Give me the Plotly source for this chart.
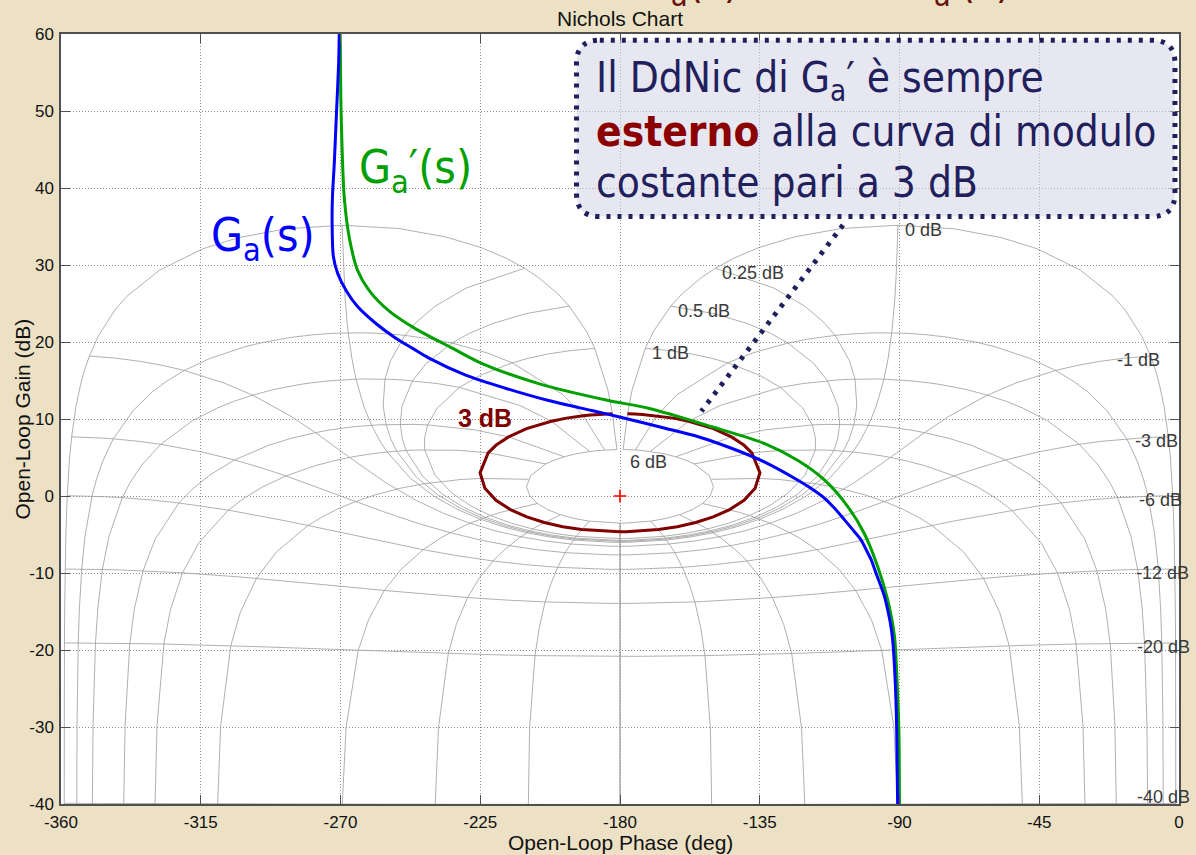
import numpy as np
import plotly.graph_objects as go

# ---------------------------------------------------------------
# Open-loop responses: phase (deg) and gain (dB)
# ---------------------------------------------------------------
ga_phase = [-270.4, -270.6, -271.3, -272.0, -272.6, -272.7, -272.3, -270.9, -268.2,
            -264.5, -258.6, -252.2, -246.9, -241.5, -229.7, -216.9, -203.0, -189.1,
            -180.5, -165.5, -154.8, -144.1, -133.4, -122.7, -118.4, -114.1, -110.9,
            -107.7, -105.0, -102.4, -100.7, -99.1, -97.5, -95.9, -94.8, -93.8, -92.9,
            -92.2, -91.4, -90.9, -90.6]
ga_gain = [60.0, 56.2, 49.7, 43.2, 38.8, 35.4, 31.1, 28.9, 26.7,
           24.6, 22.4, 20.5, 19.2, 17.9, 15.7, 14.0, 12.4, 11.1,
           10.3, 8.8, 7.7, 6.2, 4.4, 2.05, 0.97, -0.3, -1.6,
           -3.1, -4.4, -5.7, -7.0, -8.3, -10.1, -11.8, -13.1, -14.8, -16.6,
           -18.7, -23.9, -30.4, -40.2]

gap_phase = [-270.1, -269.9, -269.5, -268.8, -267.2, -264.5, -260.8, -254.3, -245.8,
             -234.0, -224.4, -206.2, -183.7, -170.8, -150.5, -133.4, -122.7, -114.1,
             -106.6, -101.3, -97.0, -93.8, -91.6, -90.8, -90.2, -90.0]
gap_gain = [60.0, 51.8, 45.3, 38.8, 33.6, 29.3, 26.7, 24.0, 21.7,
            19.2, 17.2, 14.6, 12.4, 11.4, 9.0, 6.8, 4.6, 2.05,
            -1.4, -4.9, -9.2, -13.5, -18.3, -23.9, -30.4, -40.2]

# ---------------------------------------------------------------
# Nichols grid: closed-loop magnitude / phase levels
# ---------------------------------------------------------------
iso_gain_db = [6, 3, 1, 0.5, 0.25, 0, -1, -3, -6, -12, -20, -40]
iso_phase_deg = [1, 5, 10, 20, 30, 50, 90, 120, 150, 180]
contour_phase_pts = [1, 2, 3, 4, 5, 7.5, 10, 15, 20, 25, 30, 45, 60, 75, 90,
                     105, 120, 135, 150, 175, 180]
contour_gain_pts = [6, 3, 2, 1, .75, .5, .4, .3, .25, .2, .15, .1, .05, 0, -.05,
                    -.1, -.15, -.25, -.4, -.5, -.75, -1, -1.25, -1.5, -2, -3, -4,
                    -5, -6, -9, -12, -16, -20, -30, -40, -50]
highlight_db = 3

phase_ticks = [-360, -315, -270, -225, -180, -135, -90, -45, 0]
gain_ticks = [-40, -30, -20, -10, 0, 10, 20, 30, 40, 50, 60]

GRID_GRAY = "#9c9c9c"
TXT = "Liberation Sans, Arial, sans-serif"
SLIDE = "DejaVu Sans Condensed, Liberation Sans, Arial, sans-serif"
NAVY = "#1f205c"
MAROON = "#8b0000"


def open_loop(mag_db, cl_phase_deg):
    """Map closed-loop T = |T|e^{j phi} to open-loop G = T/(1-T) in Nichols coords."""
    mag_db = np.asarray(mag_db, dtype=float)
    cl_phase_deg = np.asarray(cl_phase_deg, dtype=float)
    z = 10 ** (mag_db / 20) * np.exp(1j * np.deg2rad(cl_phase_deg))
    h = z / (1 - z)
    gain = 20 * np.log10(np.abs(h))
    phase = cl_phase_deg - np.rad2deg(np.angle(1 - z)) - 360
    return phase, gain


theta_full = np.array(contour_phase_pts[:] + [360 - p for p in contour_phase_pts[-2::-1]])

grid_x, grid_y = [], []
# constant closed-loop magnitude curves
for m in iso_gain_db:
    ph, gn = open_loop(np.full(theta_full.shape, m), theta_full)
    grid_x += list(ph) + [None]
    grid_y += list(gn) + [None]
# constant closed-loop phase curves (and their mirror images)
for p in iso_phase_deg:
    ph, gn = open_loop(contour_gain_pts, np.full(len(contour_gain_pts), p))
    grid_x += list(ph) + [None] + list(-360 - ph) + [None]
    grid_y += list(gn) + [None] + list(gn) + [None]

fig = go.Figure()

fig.add_trace(go.Scatter(x=grid_x, y=grid_y, mode="lines",
                         line=dict(color=GRID_GRAY, width=0.8),
                         hoverinfo="skip", showlegend=False))

hl_ph, hl_gn = open_loop(np.full(theta_full.shape, highlight_db), theta_full)
fig.add_trace(go.Scatter(x=hl_ph, y=hl_gn, mode="lines",
                         line=dict(color="#800000", width=3),
                         showlegend=False))

fig.add_trace(go.Scatter(x=gap_phase, y=gap_gain, mode="lines",
                         line=dict(color="#00a000", width=3, shape="spline", smoothing=0.8),
                         name="Ga'(s)", showlegend=False))
fig.add_trace(go.Scatter(x=ga_phase, y=ga_gain, mode="lines",
                         line=dict(color="#0000ff", width=3, shape="spline", smoothing=0.8),
                         name="Ga(s)", showlegend=False))

fig.add_trace(go.Scatter(x=[-180], y=[0], mode="markers",
                         marker=dict(symbol="cross-thin", size=9,
                                     line=dict(color="#ff0000", width=1.6)),
                         showlegend=False))

# closed-loop magnitude labels at the end of each contour
annotations = []
end_theta = 360 - contour_phase_pts[0]
for m in iso_gain_db:
    if m == highlight_db:
        continue
    ph, gn = open_loop([m], [end_theta])
    label = f"{m:g} dB"
    if m >= 0:
        annotations.append(dict(x=float(ph[0]), y=float(gn[0]), text=label,
                                xanchor="left", yanchor="middle",
                                xshift=5, yshift=-12 if m == 6 else -4.5,
                                showarrow=False,
                                font=dict(family=TXT, size=18, color="#3a3a3a")))
    else:
        annotations.append(dict(x=float(ph[0]), y=float(gn[0]), text=label,
                                xanchor="center", yanchor="middle",
                                xshift=-12, yshift=6 if m == -40 else -4, showarrow=False,
                                font=dict(family=TXT, size=18, color="#3a3a3a")))

# titles
annotations += [
    dict(xref="paper", yref="paper", x=0.5, y=1.0, yshift=2, text="Nichols Chart",
         xanchor="center", yanchor="bottom", showarrow=False,
         font=dict(family=TXT, size=21, color="#111111")),
    dict(xref="paper", yref="paper", x=0.5, y=0, yshift=-38, text="Open-Loop Phase (deg)",
         xanchor="center", yanchor="middle", showarrow=False,
         font=dict(family=TXT, size=21, color="#111111")),
    dict(xref="paper", yref="paper", x=0, xshift=-26, y=0.5, text="Open-Loop Gain (dB)",
         textangle=-90, xanchor="right", yanchor="middle", showarrow=False,
         font=dict(family=TXT, size=21, color="#111111")),
]

# slide heading, mostly outside the page
annotations += [
    dict(xref="paper", yref="paper", x=0.5165, y=1.025, text="G<sub>a</sub>(s)",
         xanchor="left", yanchor="bottom", showarrow=False,
         font=dict(family=SLIDE, size=44, color="#6a1010")),
    dict(xref="paper", yref="paper", x=0.751, y=1.025, text="G<sub>a</sub>′(s)",
         xanchor="left", yanchor="bottom", showarrow=False,
         font=dict(family=SLIDE, size=44, color="#6a1010")),
]

# curve labels
annotations += [
    dict(x=-277.5, y=33.5, text="G<sub>a</sub>(s)", xanchor="right", yanchor="middle",
         showarrow=False, font=dict(family=SLIDE, size=46, color="#0000ff")),
    dict(x=-264.6, y=42.3, text="G<sub>a</sub>′(s)", xanchor="left", yanchor="middle",
         showarrow=False, font=dict(family=SLIDE, size=46, color="#00a000")),
    dict(x=-223.5, y=10.1, text="<b>3 dB</b>", xanchor="center", yanchor="middle",
         showarrow=False, font=dict(family=TXT, size=25, color="#800000")),
]

# call-out text
box_lines = [
    "Il DdNic di G<sub>a</sub>′ è sempre",
    f"<span style='color:{MAROON}'><b>esterno</b></span> alla curva di modulo",
    "costante pari a 3 dB",
]
box_line_y = [54.0, 47.4, 40.7]
for txt, yy in zip(box_lines, box_line_y):
    annotations.append(dict(x=-188.5, y=yy, text=txt, xanchor="left", yanchor="middle",
                            align="left", showarrow=False,
                            font=dict(family=SLIDE, size=42, color=NAVY)))

# rounded call-out box
x0, x1, y0, y1 = -194.0, -1.3, 36.3, 59.2
rx, ry = 7.5, 3.0
box_path = (f"M {x0+rx},{y1} L {x1-rx},{y1} Q {x1},{y1} {x1},{y1-ry} "
            f"L {x1},{y0+ry} Q {x1},{y0} {x1-rx},{y0} L {x0+rx},{y0} "
            f"Q {x0},{y0} {x0},{y0+ry} L {x0},{y1-ry} Q {x0},{y1} {x0+rx},{y1} Z")
shapes = [
    dict(type="path", xref="x", yref="y", path=box_path,
         fillcolor="rgba(212,212,232,0.55)",
         line=dict(color=NAVY, width=5, dash="4px,7px"), layer="above"),
    dict(type="line", xref="x", yref="y", x0=-108.2, y0=35.2, x1=-153.8, y1=11.0,
         line=dict(color=NAVY, width=5, dash="4px,7px"), layer="above"),
]

axis_common = dict(
    showline=True, linecolor="#505050", linewidth=1.5, mirror="ticks",
    ticks="inside", ticklen=9, tickcolor="#505050", tickwidth=1,
    showgrid=True, gridcolor="#8a8a8a", griddash="1px,2px", gridwidth=1,
    zeroline=False, tickfont=dict(family=TXT, size=17, color="#111111"),
)

fig.update_layout(
    width=1196, height=855,
    margin=dict(l=61, r=14, t=34, b=51),
    paper_bgcolor="#ece1c5", plot_bgcolor="#ffffff",
    xaxis=dict(range=[-360, 0], tickvals=phase_ticks,
               ticktext=[str(v) for v in phase_ticks], ticklabelstandoff=2, **axis_common),
    yaxis=dict(range=[-40, 60], tickvals=gain_ticks,
               ticktext=[str(v) for v in gain_ticks], ticklabelstandoff=2, **axis_common),
    annotations=annotations, shapes=shapes, showlegend=False,
)

fig.write_html("out.html")
